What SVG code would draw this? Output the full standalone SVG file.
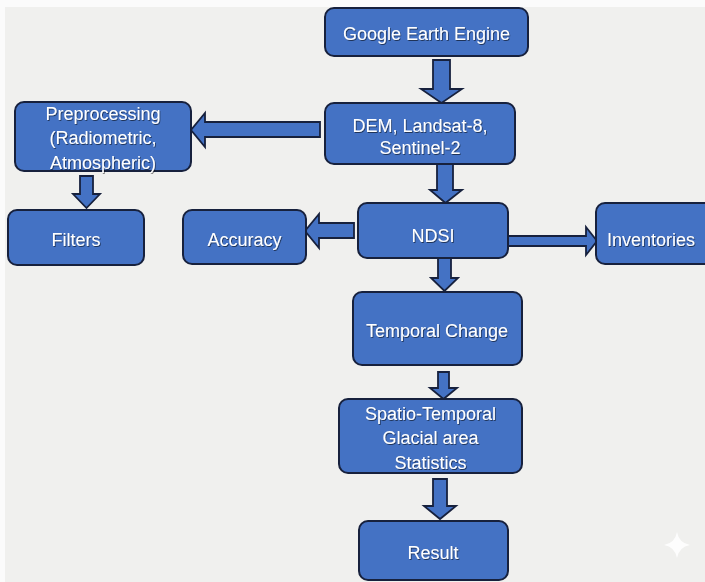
<svg xmlns="http://www.w3.org/2000/svg" width="705" height="582" viewBox="0 0 705 582">
  <defs>
    <filter id="ts" x="-10%" y="-30%" width="120%" height="160%">
      <feDropShadow dx="0.8" dy="1" stdDeviation="0.6" flood-color="#000" flood-opacity="0.55"/>
    </filter>
  </defs>
  <style>
    .box { fill: #4472c4; stroke: #17213d; stroke-width: 2; }
    .arr { fill: #4472c4; stroke: #17213d; stroke-width: 1.8; stroke-linejoin: miter; }
    .t { font-family: "Liberation Sans", Arial, sans-serif; font-size: 18px; fill: #ffffff; text-anchor: middle; filter: url(#ts); }
  </style>
  <rect x="0" y="0" width="705" height="582" fill="#fbfbfb"/>
  <rect x="5" y="7" width="700" height="575" fill="#f0f0ee"/>

  <g id="connectors">
    <polygon class="arr" points="433,60 450,60 450,89 462,89 441.5,103 421,89 433,89"/>
    <polygon class="arr" points="320,122 320,137 205,137 205,147 191,130 205,113 205,122"/>
    <polygon class="arr" points="80,176 93,176 93,194 100,194 86.5,208 73,194 80,194"/>
    <polygon class="arr" points="437,164 453,164 453,190 462,190 445.5,203 430,190 437,190"/>
    <polygon class="arr" points="354,223 354,238 319,238 319,248 305,231 319,214 319,223"/>
    <polygon class="arr" points="508,236 586,236 586,227 597,241 586,255 586,246 508,246"/>
    <polygon class="arr" points="438,258 451,258 451,278 458,278 444.5,291 431,278 438,278"/>
    <polygon class="arr" points="438,372 449,372 449,388 457,388 443.5,399 430,388 438,388"/>
    <polygon class="arr" points="433,479 447,479 447,506 456,506 440,519 424,506 433,506"/>
  </g>

  <g id="gee">
    <rect class="box" x="325" y="8" width="203" height="48" rx="9"/>
    <text class="t" x="426.5" y="39.5">Google Earth Engine</text>
  </g>
  <g id="dem">
    <rect class="box" x="325" y="103" width="190" height="61" rx="9"/>
    <text class="t" x="420" y="132">DEM, Landsat-8,</text>
    <text class="t" x="420" y="154">Sentinel-2</text>
  </g>
  <g id="preprocessing">
    <rect class="box" x="15" y="102" width="176" height="69" rx="9"/>
    <text class="t" x="103" y="119.5">Preprocessing</text>
    <text class="t" x="103" y="143.5">(Radiometric,</text>
    <text class="t" x="103" y="169">Atmospheric)</text>
  </g>
  <g id="filters">
    <rect class="box" x="8" y="210" width="136" height="55" rx="9"/>
    <text class="t" x="76" y="245.5">Filters</text>
  </g>
  <g id="accuracy">
    <rect class="box" x="183" y="210" width="123" height="54" rx="9"/>
    <text class="t" x="244.5" y="245.5">Accuracy</text>
  </g>
  <g id="ndsi">
    <rect class="box" x="358" y="203" width="150" height="55" rx="9"/>
    <text class="t" x="433" y="241.5">NDSI</text>
  </g>
  <g id="inventories">
    <rect class="box" x="596" y="203" width="120" height="61" rx="9"/>
    <text class="t" x="607" y="245.5" style="text-anchor:start">Inventories</text>
  </g>
  <g id="temporal">
    <rect class="box" x="353" y="292" width="169" height="73" rx="9"/>
    <text class="t" x="437" y="336.5">Temporal Change</text>
  </g>
  <g id="spatio">
    <rect class="box" x="339" y="399" width="183" height="74" rx="9"/>
    <text class="t" x="430.5" y="419.5">Spatio-Temporal</text>
    <text class="t" x="430.5" y="443.5">Glacial area</text>
    <text class="t" x="430.5" y="468.5">Statistics</text>
  </g>
  <g id="result">
    <rect class="box" x="359" y="521" width="149" height="59" rx="9"/>
    <text class="t" x="433" y="558.5">Result</text>
  </g>

  <path d="M677,532 Q679,543 690,545 Q679,547 677,558 Q675,547 664,545 Q675,543 677,532Z" fill="#ffffff" opacity="0.85"/>
</svg>
